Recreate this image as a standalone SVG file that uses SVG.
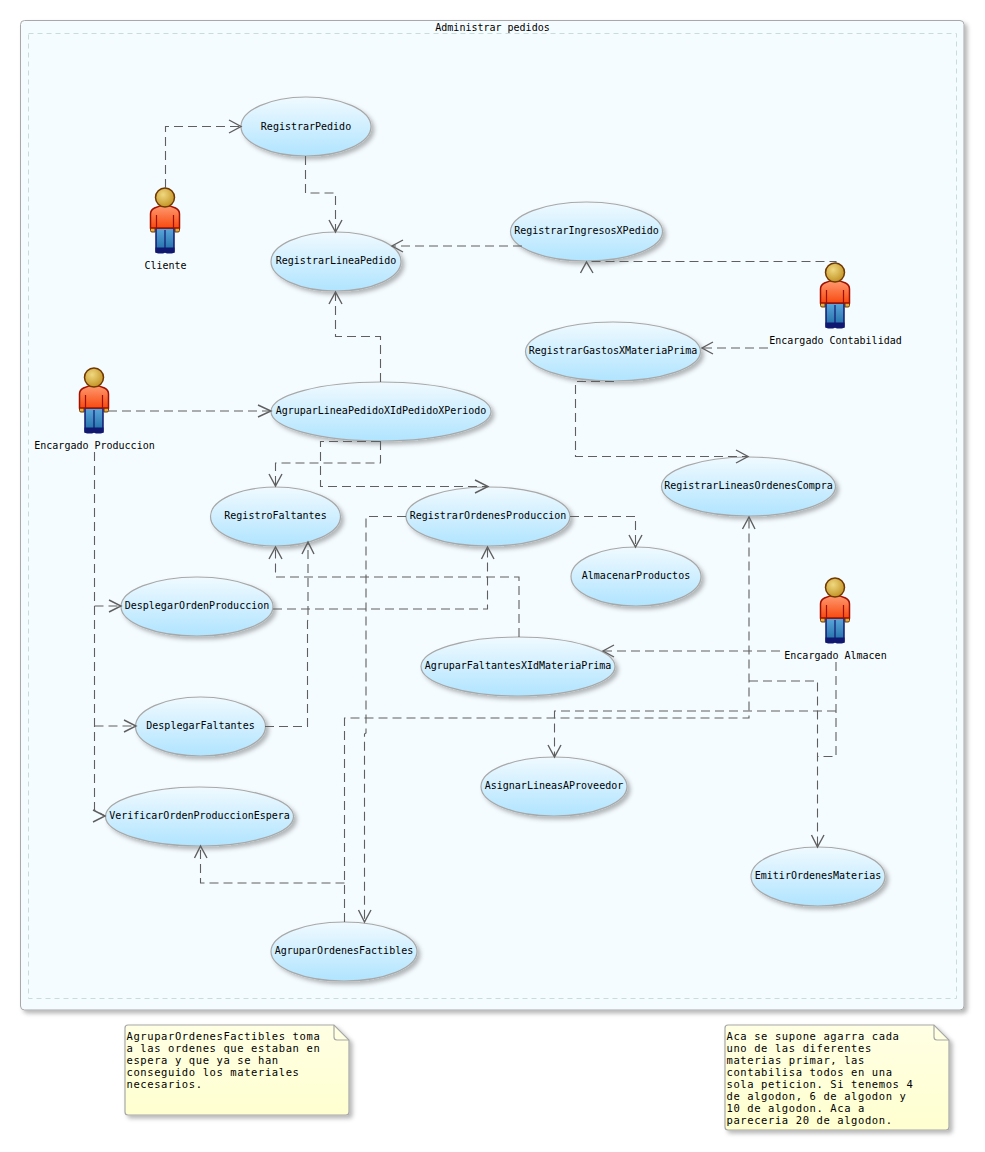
<svg xmlns="http://www.w3.org/2000/svg" width="985" height="1152" viewBox="0 0 985 1152">
<style>
text{font-family:"DejaVu Sans Mono","Liberation Mono",monospace;font-size:10px;fill:#000}
text.t{font-size:10.500px;letter-spacing:0.600px}
.u{fill:url(#ug);stroke:#A8A8A8;stroke-width:1.2;filter:url(#sh)}
.c{fill:none;stroke:#5F5F5F;stroke-width:1.100;stroke-dasharray:9 5}
.a{fill:none;stroke:#5F5F5F;stroke-width:1.400}
.n{fill:url(#ng);stroke:#A8A8A8;stroke-width:1.2;filter:url(#sh)}
</style>
<defs>
<linearGradient id="ug" x1="0" y1="0" x2="0" y2="1"><stop offset="0" stop-color="#F0FAFF"/><stop offset="1" stop-color="#B0E4FF"/></linearGradient>
<linearGradient id="ng" x1="0" y1="0" x2="0" y2="1"><stop offset="0" stop-color="#FFFFE4"/><stop offset="1" stop-color="#FFFFD0"/></linearGradient>
<linearGradient id="sg" x1="0" y1="0" x2="0" y2="1"><stop offset="0" stop-color="#FF9A70"/><stop offset="1" stop-color="#F84A10"/></linearGradient>
<linearGradient id="jg" x1="0" y1="0" x2="0" y2="1"><stop offset="0" stop-color="#5CA8DC"/><stop offset="1" stop-color="#1E6AA4"/></linearGradient>
<radialGradient id="hg" cx="0.4" cy="0.35" r="0.7"><stop offset="0" stop-color="#F0D880"/><stop offset="1" stop-color="#C09020"/></radialGradient>
<filter id="sh" x="-10%" y="-10%" width="125%" height="125%"><feDropShadow dx="3" dy="3" stdDeviation="2" flood-color="#000" flood-opacity="0.28"/></filter>
<g id="actor">
<path d="M-14.500 25h4.500v5h-3a1.500 1.500 0 0 1-1.500-1.500zM14.500 25h-4.500v5h3a1.500 1.500 0 0 0 1.500-1.500z" fill="#E0B040" stroke="#703800" stroke-width="1"/>
<rect x="-9" y="26" width="18" height="24" fill="url(#jg)" stroke="#101870" stroke-width="1.500"/>
<path d="M0 28V46" stroke="#101870" stroke-width="1.200"/>
<path d="M-9.500 45.500h9.500h9.500v3a3 3 0 0 1-3 3h-4a3 3 0 0 1-2.500-1.200a3 3 0 0 1-2.500 1.200h-4a3 3 0 0 1-3-3z" fill="#101870"/>
<path d="M-14.500 26V12q0-4 4-6q5-2.500 10.500-2.500t10.500 2.500q4 2 4 6V26z" fill="url(#sg)" stroke="#A01000" stroke-width="1.500"/>
<path d="M-8.500 13V26M8.500 13V26" stroke="#A01000" stroke-width="1.200"/>
<circle cx="0" cy="-4.500" r="9.500" fill="url(#hg)" stroke="#703800" stroke-width="1.500"/>
</g>
</defs>
<g id="frame">
<rect x="20.500" y="20.500" width="943.500" height="989.500" rx="4" fill="#F5FCFF" stroke="#A8A8A8" stroke-width="1" filter="url(#sh)"/>
<rect x="28.500" y="33.500" width="928" height="965" fill="none" stroke="#C8DCDC" stroke-width="1" stroke-dasharray="5 4"/>
<text x="492.500" y="31" text-anchor="middle">Administrar pedidos</text>
</g>
<g id="RegistrarPedido"><ellipse class="u" cx="306" cy="126.500" rx="65" ry="29.500"/><text x="306" y="129.500" text-anchor="middle">RegistrarPedido</text></g>
<g id="RegistrarLineaPedido"><ellipse class="u" cx="336" cy="261.500" rx="65" ry="29.500"/><text x="336" y="264" text-anchor="middle">RegistrarLineaPedido</text></g>
<g id="RegistrarIngresosXPedido"><ellipse class="u" cx="586.500" cy="231.500" rx="76" ry="29.500"/><text x="586.500" y="234" text-anchor="middle">RegistrarIngresosXPedido</text></g>
<g id="RegistrarGastosXMateriaPrima"><ellipse class="u" cx="613" cy="351.500" rx="87.500" ry="29.500"/><text x="613" y="354" text-anchor="middle">RegistrarGastosXMateriaPrima</text></g>
<g id="AgruparLineaPedidoXIdPedidoXPeriodo"><ellipse class="u" cx="381" cy="411.500" rx="110" ry="29.500"/><text x="381" y="414" text-anchor="middle">AgruparLineaPedidoXIdPedidoXPeriodo</text></g>
<g id="RegistrarLineasOrdenesCompra"><ellipse class="u" cx="748.500" cy="486.500" rx="87" ry="29.500"/><text x="748.500" y="489" text-anchor="middle">RegistrarLineasOrdenesCompra</text></g>
<g id="RegistroFaltantes"><ellipse class="u" cx="275.500" cy="516.500" rx="65" ry="29.500"/><text x="275.500" y="519" text-anchor="middle">RegistroFaltantes</text></g>
<g id="RegistrarOrdenesProduccion"><ellipse class="u" cx="488" cy="516.500" rx="82" ry="29.500"/><text x="488" y="519" text-anchor="middle">RegistrarOrdenesProduccion</text></g>
<g id="AlmacenarProductos"><ellipse class="u" cx="636" cy="576.500" rx="65" ry="29.500"/><text x="636" y="579" text-anchor="middle">AlmacenarProductos</text></g>
<g id="DesplegarOrdenProduccion"><ellipse class="u" cx="197" cy="606.500" rx="76" ry="29.500"/><text x="197" y="609" text-anchor="middle">DesplegarOrdenProduccion</text></g>
<g id="AgruparFaltantesXIdMateriaPrima"><ellipse class="u" cx="518" cy="666.500" rx="97" ry="29.500"/><text x="518" y="669" text-anchor="middle">AgruparFaltantesXIdMateriaPrima</text></g>
<g id="DesplegarFaltantes"><ellipse class="u" cx="200.500" cy="726.500" rx="65" ry="29.500"/><text x="200.500" y="729" text-anchor="middle">DesplegarFaltantes</text></g>
<g id="VerificarOrdenProduccionEspera"><ellipse class="u" cx="199.500" cy="816.500" rx="94" ry="29.500"/><text x="199.500" y="819" text-anchor="middle">VerificarOrdenProduccionEspera</text></g>
<g id="AsignarLineasAProveedor"><ellipse class="u" cx="554" cy="786.500" rx="73" ry="29.500"/><text x="554" y="789" text-anchor="middle">AsignarLineasAProveedor</text></g>
<g id="EmitirOrdenesMaterias"><ellipse class="u" cx="818" cy="876.500" rx="67" ry="29.500"/><text x="818" y="879" text-anchor="middle">EmitirOrdenesMaterias</text></g>
<g id="AgruparOrdenesFactibles"><ellipse class="u" cx="344" cy="951.500" rx="73" ry="29.500"/><text x="344" y="954" text-anchor="middle">AgruparOrdenesFactibles</text></g>
<g id="Cliente"><use href="#actor" x="165" y="202"/><text x="165.500" y="269" text-anchor="middle">Cliente</text></g>
<g id="EncargadoContabilidad"><use href="#actor" x="835" y="277"/><text x="835.500" y="344" text-anchor="middle">Encargado Contabilidad</text></g>
<g id="EncargadoProduccion"><use href="#actor" x="94" y="382"/><text x="94.500" y="449" text-anchor="middle">Encargado Produccion</text></g>
<g id="EncargadoAlmacen"><use href="#actor" x="835" y="592"/><text x="835.500" y="659" text-anchor="middle">Encargado Almacen</text></g>
<g id="connectors">
<path class="c" d="M165.500 188V126.500H240"/><path class="a" d="M229 120L241 126.500L229 133"/>
<path class="c" d="M305.500 156V193H335.500V231"/><path class="a" d="M329 220L335.500 232L342 220"/>
<path class="c" d="M522 246H393"/><path class="a" d="M403 240L392 246L403 252"/>
<path class="c" d="M836 264V261.500H587"/><path class="a" d="M580.500 273L586.500 262L593 273"/>
<path class="c" d="M768 348H703"/><path class="a" d="M713 342L702 348L713 354"/>
<path class="c" d="M614 381.500H575.500V456.500H747"/><path class="a" d="M736 450L748 456.500L736 463"/>
<path class="c" d="M380.500 382V336.500H335.500V293"/><path class="a" d="M329 304L335.500 292L342 304"/>
<path class="c" d="M108 411H270"/><path class="a" d="M258 405L271 411L258 417"/>
<path class="c" d="M380.500 441V463H275.500V485"/><path class="a" d="M269 474L275.500 486L282 474"/>
<path class="c" d="M380 441.500H320.500V486.500H487"/><path class="a" d="M475 480L488 486.500L475 493"/>
<path class="c" d="M570 516.500H635.500V546"/><path class="a" d="M629 535L635.500 547L642 535"/>
<path class="c" d="M94.500 452V810L105 816"/>
<path class="c" d="M94.500 606H120"/><path class="a" d="M109 600L121 606L109 612"/>
<path class="c" d="M94.500 726H135"/><path class="a" d="M124 720L136 726L124 732"/>
<path class="a" d="M93 810L105 816L93 822"/>
<path class="c" d="M273 609H487.500V548"/><path class="a" d="M481.500 559L487.500 547L494 559"/>
<path class="c" d="M519 637V577H275.500V548"/><path class="a" d="M269 559L275.500 547L282 559"/>
<path class="c" d="M265 726.500H307.500V621L308 620V543"/><path class="a" d="M302 554L308 542L314 554"/>
<path class="c" d="M406 516.500H366V733L364.500 734V921"/><path class="a" d="M358.500 910L364.500 922L371 910"/>
<path class="c" d="M344.500 922V718H749V518"/><path class="a" d="M742.500 529L749 517L755 529"/>
<path class="c" d="M344.500 883H200.500V847"/><path class="a" d="M194.500 858L200.500 846L207 858"/>
<path class="c" d="M780 651H604"/><path class="a" d="M614 645L603 651L614 657"/>
<path class="c" d="M836 662V756.500H818"/><path class="a" d="M811.500 835L817.500 847L824 835"/>
<path class="c" d="M836 711H554.500V756"/><path class="a" d="M548 745L554.500 757L561 745"/>
<path class="c" d="M749 681H817.500V846"/>
</g>
<g id="NoteAgrupar"><path class="n" d="M128 1025H334L349 1040V1112a3 3 0 0 1-3 3H128a3 3 0 0 1-3-3V1028a3 3 0 0 1 3-3z"/><path d="M334 1025V1037a3 3 0 0 0 3 3H349" fill="none" stroke="#A8A8A8" stroke-width="1.200"/>
<text class="t" x="126.500" y="1040">AgruparOrdenesFactibles toma</text>
<text class="t" x="126.500" y="1052">a las ordenes que estaban en</text>
<text class="t" x="126.500" y="1064">espera y que ya se han</text>
<text class="t" x="126.500" y="1076">conseguido los materiales</text>
<text class="t" x="126.500" y="1088">necesarios.</text></g>
<g id="NoteAca"><path class="n" d="M728 1025H934L949 1040V1127a3 3 0 0 1-3 3H728a3 3 0 0 1-3-3V1028a3 3 0 0 1 3-3z"/><path d="M934 1025V1037a3 3 0 0 0 3 3H949" fill="none" stroke="#A8A8A8" stroke-width="1.200"/>
<text class="t" x="726.500" y="1040">Aca se supone agarra cada</text>
<text class="t" x="726.500" y="1052">uno de las diferentes</text>
<text class="t" x="726.500" y="1064">materias primar, las</text>
<text class="t" x="726.500" y="1076">contabilisa todos en una</text>
<text class="t" x="726.500" y="1088">sola peticion. Si tenemos 4</text>
<text class="t" x="726.500" y="1100">de algodon, 6 de algodon y</text>
<text class="t" x="726.500" y="1112">10 de algodon. Aca a</text>
<text class="t" x="726.500" y="1124">pareceria 20 de algodon.</text></g>
</svg>
